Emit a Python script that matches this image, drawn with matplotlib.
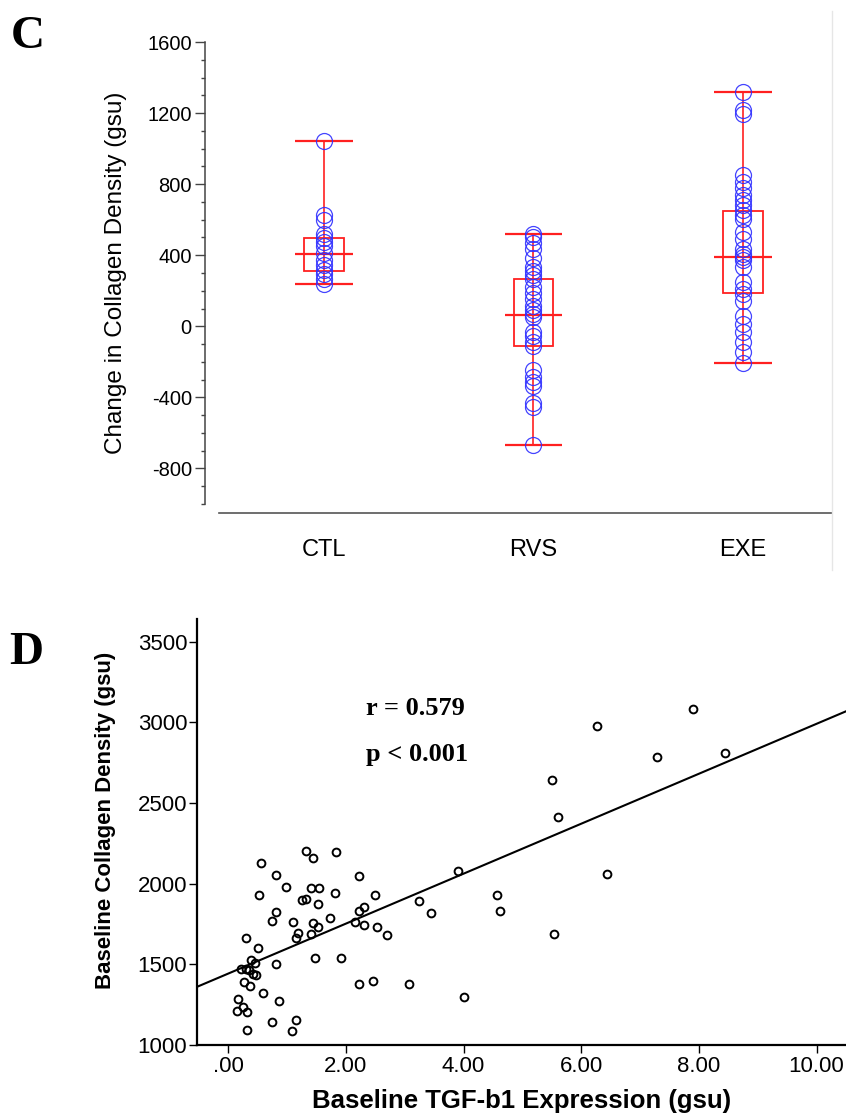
import numpy as np
import matplotlib
matplotlib.use("Agg")
import matplotlib.pyplot as plt
from matplotlib.patches import Rectangle
from matplotlib.lines import Line2D

plt.rcParams['font.family'] = ['Liberation Sans', 'DejaVu Sans']
plt.rcParams['axes.unicode_minus'] = False

# ---------------- Panel C data: change in collagen density by group ----------------
groups = ["CTL", "RVS", "EXE"]
ctl_change = [1043, 628, 601, 522, 497, 474, 452, 410, 371, 343, 318, 292, 268, 240]
rvs_change = [518, 500, 470, 437, 384, 333, 314, 290, 267, 220, 188, 155, 117, 89, 70, 55,
              -34, -56, -86, -111, -245, -285, -316, -335, -429, -452, -670]
exe_change = [1321, 1218, 1194, 851, 813, 776, 738, 710, 681, 653, 625, 606, 531, 493, 437,
              409, 390, 371, 333, 249, 211, 183, 145, 60, 14, -34, -90, -147, -205]
box_q1 = [314, -111, 189]
box_median = [409, 66, 392]
box_q3 = [497, 265, 648]

# ---------------- Panel D data: baseline TGF-b1 vs baseline collagen ----------------
tgf_b1 = [1.33, 1.44, 1.84, 0.55, 0.82, 2.23, 0.99, 1.41, 1.54, 1.81, 0.53, 2.50, 1.25, 1.33,
          1.53, 3.24, 3.45, 0.81, 2.23, 2.31, 0.75, 1.11, 1.44, 1.73, 1.53, 2.16, 2.30, 2.53,
          2.70, 1.19, 1.16, 1.41, 0.30, 0.50, 1.48, 1.92, 0.39, 0.45, 0.81, 0.22, 0.31, 0.35,
          0.43, 0.48, 0.27, 0.37, 2.22, 2.46, 3.07, 0.60, 0.17, 0.87, 0.25, 0.15, 0.32, 0.75,
          1.16, 0.32, 1.09,
          3.90, 4.57, 5.50, 5.61, 6.43, 6.27, 7.28, 7.90, 8.44, 4.62, 5.53, 4.01]
collagen = [2202, 2158, 2193, 2127, 2051, 2049, 1981, 1975, 1973, 1944, 1932, 1929, 1899, 1903,
            1876, 1892, 1818, 1827, 1829, 1853, 1767, 1761, 1759, 1790, 1730, 1761, 1744, 1732,
            1680, 1691, 1660, 1688, 1666, 1604, 1542, 1542, 1528, 1511, 1499, 1472, 1472, 1466,
            1439, 1435, 1388, 1367, 1377, 1398, 1379, 1322, 1283, 1272, 1235, 1208, 1204, 1140,
            1156, 1093, 1089,
            2076, 1928, 2645, 2410, 2057, 2977, 2787, 3084, 2808, 1831, 1690, 1297]
r_label = "r = 0.579"
p_label = "p < 0.001"
x_tick_vals = [0, 2, 4, 6, 8, 10]
x_tick_labels = [".00", "2.00", "4.00", "6.00", "8.00", "10.00"]
y_tick_vals = [1000, 1500, 2000, 2500, 3000, 3500]

W, H = 846, 1114
fig = plt.figure(figsize=(W / 100, H / 100), dpi=100)


def fx(px):
    return px / W


def fy(py):
    return 1 - py / H


# ======================= Panel C =======================
axC = fig.add_axes([fx(205), fy(504), fx(832) - fx(205), fy(42) - fy(504)])
positions = [1, 2, 3]
red = "#ff2020"
blue = "#2f2fff"
box_half = 0.095
cap_half = 0.137
for pos, vals, q1, med, q3 in zip(positions, [ctl_change, rvs_change, exe_change],
                                 box_q1, box_median, box_q3):
    lo, hi = min(vals), max(vals)
    axC.vlines(pos, lo, hi, color=red, lw=1.2, zorder=2)
    axC.hlines([lo, hi, med], pos - cap_half, pos + cap_half, color=red, lw=1.6, zorder=2)
    axC.add_patch(Rectangle((pos - box_half, q1), 2 * box_half, q3 - q1,
                            fill=False, edgecolor=red, lw=1.3, zorder=2))
    axC.plot([pos] * len(vals), vals, linestyle="none", marker="o", ms=11.5,
             mfc="none", mec=blue, mew=0.9, alpha=0.9, zorder=3)

axC.set_xlim(0.432, 3.425)
axC.set_ylim(-1000, 1600)
axC.set_yticks(np.arange(-800, 1601, 400))
axC.set_yticks(np.arange(-1000, 1601, 100), minor=True)
axC.set_xticks(positions)
axC.set_xticklabels(groups)
axC.tick_params(axis="x", length=0, pad=19, labelsize=17)
axC.tick_params(axis="y", which="major", length=7.5, width=1.0, color="#444444",
                labelsize=14.5, pad=2)
axC.tick_params(axis="y", which="minor", length=3, width=1.0, color="#444444")
for s in ("top", "right"):
    axC.spines[s].set_visible(False)
axC.spines["left"].set_color("#444444")
axC.spines["left"].set_linewidth(1.1)
axC.spines["bottom"].set_position(("outward", 6.5))
axC.spines["bottom"].set_bounds(0.4984, 3.425)
axC.spines["bottom"].set_color("#555555")
axC.spines["bottom"].set_linewidth(1.2)
axC.set_ylabel("Change in Collagen Density (gsu)", fontsize=17.5)
axC.yaxis.set_label_coords((116 - 205) / (832 - 205), (504 - 272.5) / (504 - 42))
axC.yaxis.label.set_va("center")

# faint frame edge on the right
fig.add_artist(Line2D([fx(832), fx(832)], [fy(11), fy(570)], color="#e6e6e6", lw=1.0))

fig.text(fx(11), fy(48), "C", fontsize=34, fontweight="bold",
         family=["Liberation Serif", "DejaVu Serif"], va="baseline", ha="left")

# ======================= Panel D =======================
axD = fig.add_axes([fx(197), fy(1045), 1 - fx(197), fy(619) - fy(1045)])
x = np.array(tgf_b1)
y = np.array(collagen)
axD.plot(x, y, linestyle="none", marker="o", ms=5.6, mfc="none", mec="black", mew=1.4,
         zorder=3)
slope, intercept = np.polyfit(x, y, 1)
xl = np.array([-0.53, 10.6])
axD.plot(xl, intercept + slope * xl, color="black", lw=1.5, zorder=2)

axD.set_xlim(-0.53, 10.5)
axD.set_ylim(1000, 3640)
axD.set_xticks(x_tick_vals)
axD.set_xticklabels(x_tick_labels)
axD.set_yticks(y_tick_vals)
axD.tick_params(axis="both", labelsize=16, width=1.0, length=6)
axD.tick_params(axis="x", pad=2)
axD.tick_params(axis="y", pad=1)
for s in ("top", "right"):
    axD.spines[s].set_visible(False)
for s in ("left", "bottom"):
    axD.spines[s].set_linewidth(1.6)
axD.set_xlabel("Baseline TGF-b1 Expression (gsu)", fontsize=18.5, fontweight="bold")
axD.xaxis.set_label_coords((522 - 197) / (846 - 197), -(1101 - 1045) / (1045 - 619))
axD.xaxis.label.set_va("center")
axD.set_ylabel("Baseline Collagen Density (gsu)", fontsize=16, fontweight="bold")
axD.yaxis.set_label_coords(-(197 - 106) / (846 - 197), (1045 - 820) / (1045 - 619))
axD.yaxis.label.set_va("center")

serif_b = dict(family=["Liberation Serif", "DejaVu Serif"], fontweight="bold", fontsize=19)
axD.text(2.35, 3084, r_label, va="center", ha="left", **serif_b)
axD.text(2.35, 2800, p_label, va="center", ha="left", **serif_b)

fig.text(fx(9), fy(664), "D", fontsize=34, fontweight="bold",
         family=["Liberation Serif", "DejaVu Serif"], va="baseline", ha="left")

fig.savefig("out.png", dpi=100)
